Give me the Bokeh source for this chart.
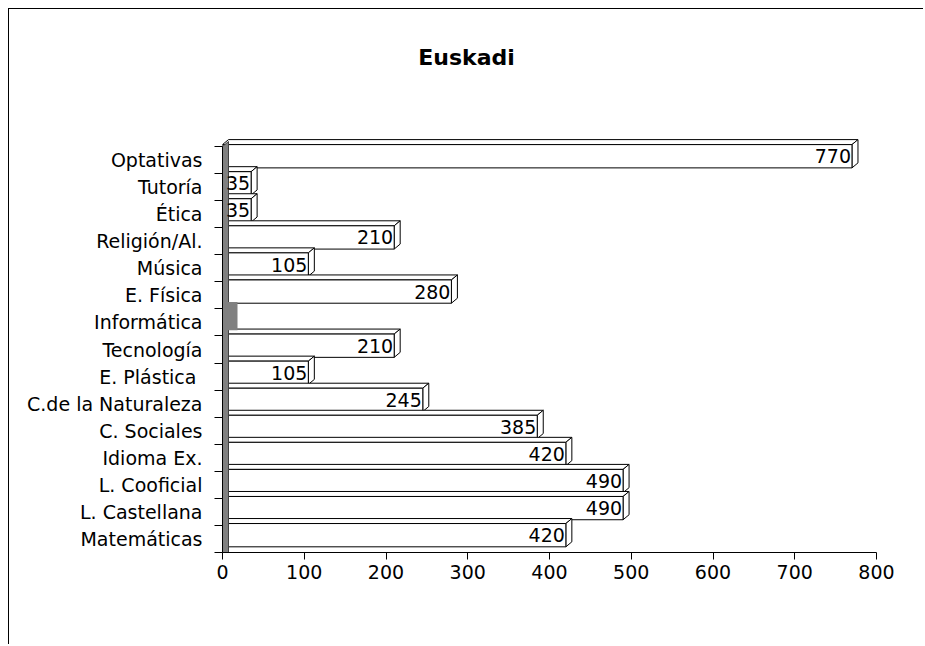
from bokeh.plotting import figure
from bokeh.models import FixedTicker, Range1d, ColumnDataSource
from bokeh.core.properties import value
from bokeh.embed import file_html
from bokeh.resources import INLINE

# ---- data (bottom to top, as on the category axis) ----
categories = ["Matemáticas", "L. Castellana", "L. Cooficial", "Idioma Ex.", "C. Sociales",
              "C.de la Naturaleza", "E. Plástica ", "Tecnología", "Informática", "E. Física",
              "Música", "Religión/Al.", "Ética", "Tutoría", "Optativas"]
hours = [420, 490, 490, 420, 385, 245, 105, 210, 0, 280, 105, 210, 35, 35, 770]
x_ticks = [0, 100, 200, 300, 400, 500, 600, 700, 800]
chart_title = "Euskadi"

# ---- layout / style constants ----
FONT = "DejaVu Sans"
FS = "19px"
W, H = 915, 636
ML, MR, MT, MB = 213, 48, 0, 93
FRAME_W = W - ML - MR
FRAME_H = H - MT - MB
n = len(categories)
CAT_PX = 406 / n
x_max = x_ticks[-1]
px_x = FRAME_W / x_max
DX = 6 / px_x          # depth offset (data units)
DY = 5 / CAT_PX
B_OFF, T_OFF = -0.29, 0.57
TITLE_X_PX, TITLE_Y_PX = 244, 495   # title anchor, px from frame left / bottom

y_end = -0.5 + FRAME_H / CAT_PX

p = figure(width=W, height=H, output_backend="svg", toolbar_location=None, title=None,
           x_range=Range1d(0, x_max), y_range=Range1d(-0.5, y_end),
           min_border_left=ML, min_border_right=MR, min_border_top=MT, min_border_bottom=MB)
p.styles = {"margin-left": "8px", "margin-top": "8px",
            "border-left": "1px solid #000000", "border-top": "1px solid #000000"}
p.outline_line_color = None
p.background_fill_color = "white"
p.border_fill_color = "white"
p.xgrid.visible = False
p.ygrid.visible = False

# ---- title ----
p.text(x=[TITLE_X_PX / px_x], y=[-0.5 + TITLE_Y_PX / CAT_PX], text=[chart_title],
       text_align="center", text_baseline="alphabetic", text_font=value(FONT),
       text_font_size="22px", text_font_style="bold", text_color="#000000")

# ---- 3D bars (top to bottom, lower bars drawn in front) ----
xs, ys, fills = [], [], []
for i in reversed(range(n)):
    v = hours[i]
    if v == 0:
        continue
    b, t = i + B_OFF, i + T_OFF
    xs.append([0, v, v + DX, DX]); ys.append([t, t, t + DY, t + DY]); fills.append("white")
    xs.append([v, v + DX, v + DX, v]); ys.append([b, b + DY, t + DY, t]); fills.append("white")
    xs.append([0, v, v, 0]); ys.append([b, b, t, t]); fills.append("white")
p.patches(xs="xs", ys="ys", fill_color="fills", line_color="#000000", line_width=1,
          source=ColumnDataSource(dict(xs=xs, ys=ys, fills=fills)))

# wall
p.patch([0, 0, DX, DX], [-0.5, n - 0.5, n - 0.5 + DY, -0.5],
        fill_color="#808080", line_color="#404040", line_width=1)

# zero-valued bars shown as grey end block
zi = [i for i in range(n) if hours[i] == 0]
p.quad(left=[0] * len(zi), right=[15 / px_x] * len(zi),
       bottom=[i + B_OFF for i in zi], top=[i + T_OFF + DY for i in zi],
       fill_color="#808080", line_color=None)

# value labels
li = [i for i in range(n) if hours[i] > 0]
p.text(x=[hours[i] for i in li], y=[i + (B_OFF + T_OFF) / 2 for i in li],
       text=[str(hours[i]) for i in li], text_align="right", text_baseline="middle",
       x_offset=-1, text_font=value(FONT), text_font_size=FS, text_color="#000000")

# ---- axes ----
xa = p.xaxis[0]
xa.ticker = FixedTicker(ticks=x_ticks)
xa.bounds = (0, x_max)
xa.major_tick_in = 0
xa.major_tick_out = 7
xa.minor_tick_line_color = None
xa.axis_line_color = "#000000"
xa.major_tick_line_color = "#000000"
xa.major_label_text_font = FONT
xa.major_label_text_font_size = FS
xa.major_label_text_color = "#000000"
xa.major_label_standoff = 5

ya = p.yaxis[0]
ya.ticker = FixedTicker(ticks=list(range(n)), minor_ticks=[i - 0.5 for i in range(n + 1)])
ya.bounds = (-0.5, n - 0.5)
ya.major_tick_in = 0
ya.major_tick_out = 0
ya.major_tick_line_color = None
ya.minor_tick_in = 0
ya.minor_tick_out = 8
ya.minor_tick_line_color = "#000000"
ya.axis_line_color = "#000000"
ya.major_label_overrides = {i: c for i, c in enumerate(categories)}
ya.major_label_text_font = FONT
ya.major_label_text_font_size = FS
ya.major_label_text_color = "#000000"
ya.major_label_standoff = 12

open("out.html", "w").write(file_html(p, INLINE))
